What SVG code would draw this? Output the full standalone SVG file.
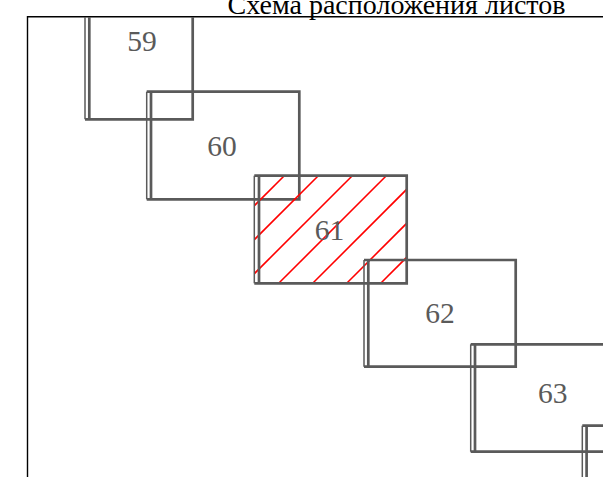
<svg xmlns="http://www.w3.org/2000/svg" width="603" height="477" viewBox="0 0 603 477">
<defs>
<style>
.thick{fill:none;stroke:#5a5a5a;stroke-width:2.7}
.thin{fill:none;stroke:#5a5a5a;stroke-width:1.5}
.lbl{font-family:"Liberation Serif","Times New Roman",serif;font-size:29.5px;fill:#5a5a5a;text-anchor:middle}
.hatch{stroke:#ff0000;stroke-width:1.6;fill:none}
.frame{fill:none;stroke:#000;stroke-width:1.4}
</style>
<clipPath id="area"><rect x="28" y="17" width="575" height="460"/></clipPath>
<clipPath id="clip61"><rect x="254.3" y="175.7" width="152.4" height="107.6"/></clipPath>
</defs>
<rect width="603" height="477" fill="#fff"/>
<text x="396.5" y="13.5" font-family="Liberation Serif,'Times New Roman',serif" font-size="28" text-anchor="middle" fill="#000">Схема расположения листов</text>
<path class="frame" d="M27.5,477 V16.7 H603"/>
<g clip-path="url(#area)">
<g id="sheet59">
<path class="thick" d="M85,-33 H192.7 V119.3 H85"/>
<path class="thin" d="M85,-33 V119.3"/>
<path class="thick" d="M89.3,-33 V119.3"/>
<text class="lbl" x="142" y="50.5">59</text>
</g>
<g id="sheet60">
<path class="thick" d="M146.7,91.7 H299.3 V199.3 H146.7"/>
<path class="thin" d="M146.7,91.7 V199.3"/>
<path class="thick" d="M151,91.7 V199.3"/>
<text class="lbl" x="222" y="156">60</text>
</g>
<g id="sheet61">
<g class="hatch" clip-path="url(#clip61)">
<line x1="284.3" y1="175.7" x2="176.7" y2="283.3"/>
<line x1="318.3" y1="175.7" x2="210.7" y2="283.3"/>
<line x1="352.3" y1="175.7" x2="244.7" y2="283.3"/>
<line x1="386.3" y1="175.7" x2="278.7" y2="283.3"/>
<line x1="420.3" y1="175.7" x2="312.7" y2="283.3"/>
<line x1="454.3" y1="175.7" x2="346.7" y2="283.3"/>
<line x1="488.3" y1="175.7" x2="380.7" y2="283.3"/>
</g>
<path class="thick" d="M254.3,175.7 H406.7 V283.3 H254.3"/>
<path class="thin" d="M254.3,175.7 V283.3"/>
<path class="thick" d="M259,175.7 V283.3"/>
<text class="lbl" x="329.5" y="240">61</text>
</g>
<g id="sheet62">
<path class="thick" d="M364,260 H515.7 V366.7 H364"/>
<path class="thin" d="M364,260 V366.7"/>
<path class="thick" d="M368.3,260 V366.7"/>
<text class="lbl" x="440" y="323">62</text>
</g>
<g id="sheet63">
<path class="thick" d="M470.7,344.3 H623 V451.7 H470.7"/>
<path class="thin" d="M470.7,344.3 V451.7"/>
<path class="thick" d="M475,344.3 V451.7"/>
<text class="lbl" x="552.7" y="402.5">63</text>
</g>
<g id="sheet64">
<path class="thick" d="M582.3,425.7 H735 V533 H582.3"/>
<path class="thin" d="M582.3,425.7 V533"/>
<path class="thick" d="M586.6,425.7 V533"/>
</g>
</g>
<g id="connectors"/>
</svg>
